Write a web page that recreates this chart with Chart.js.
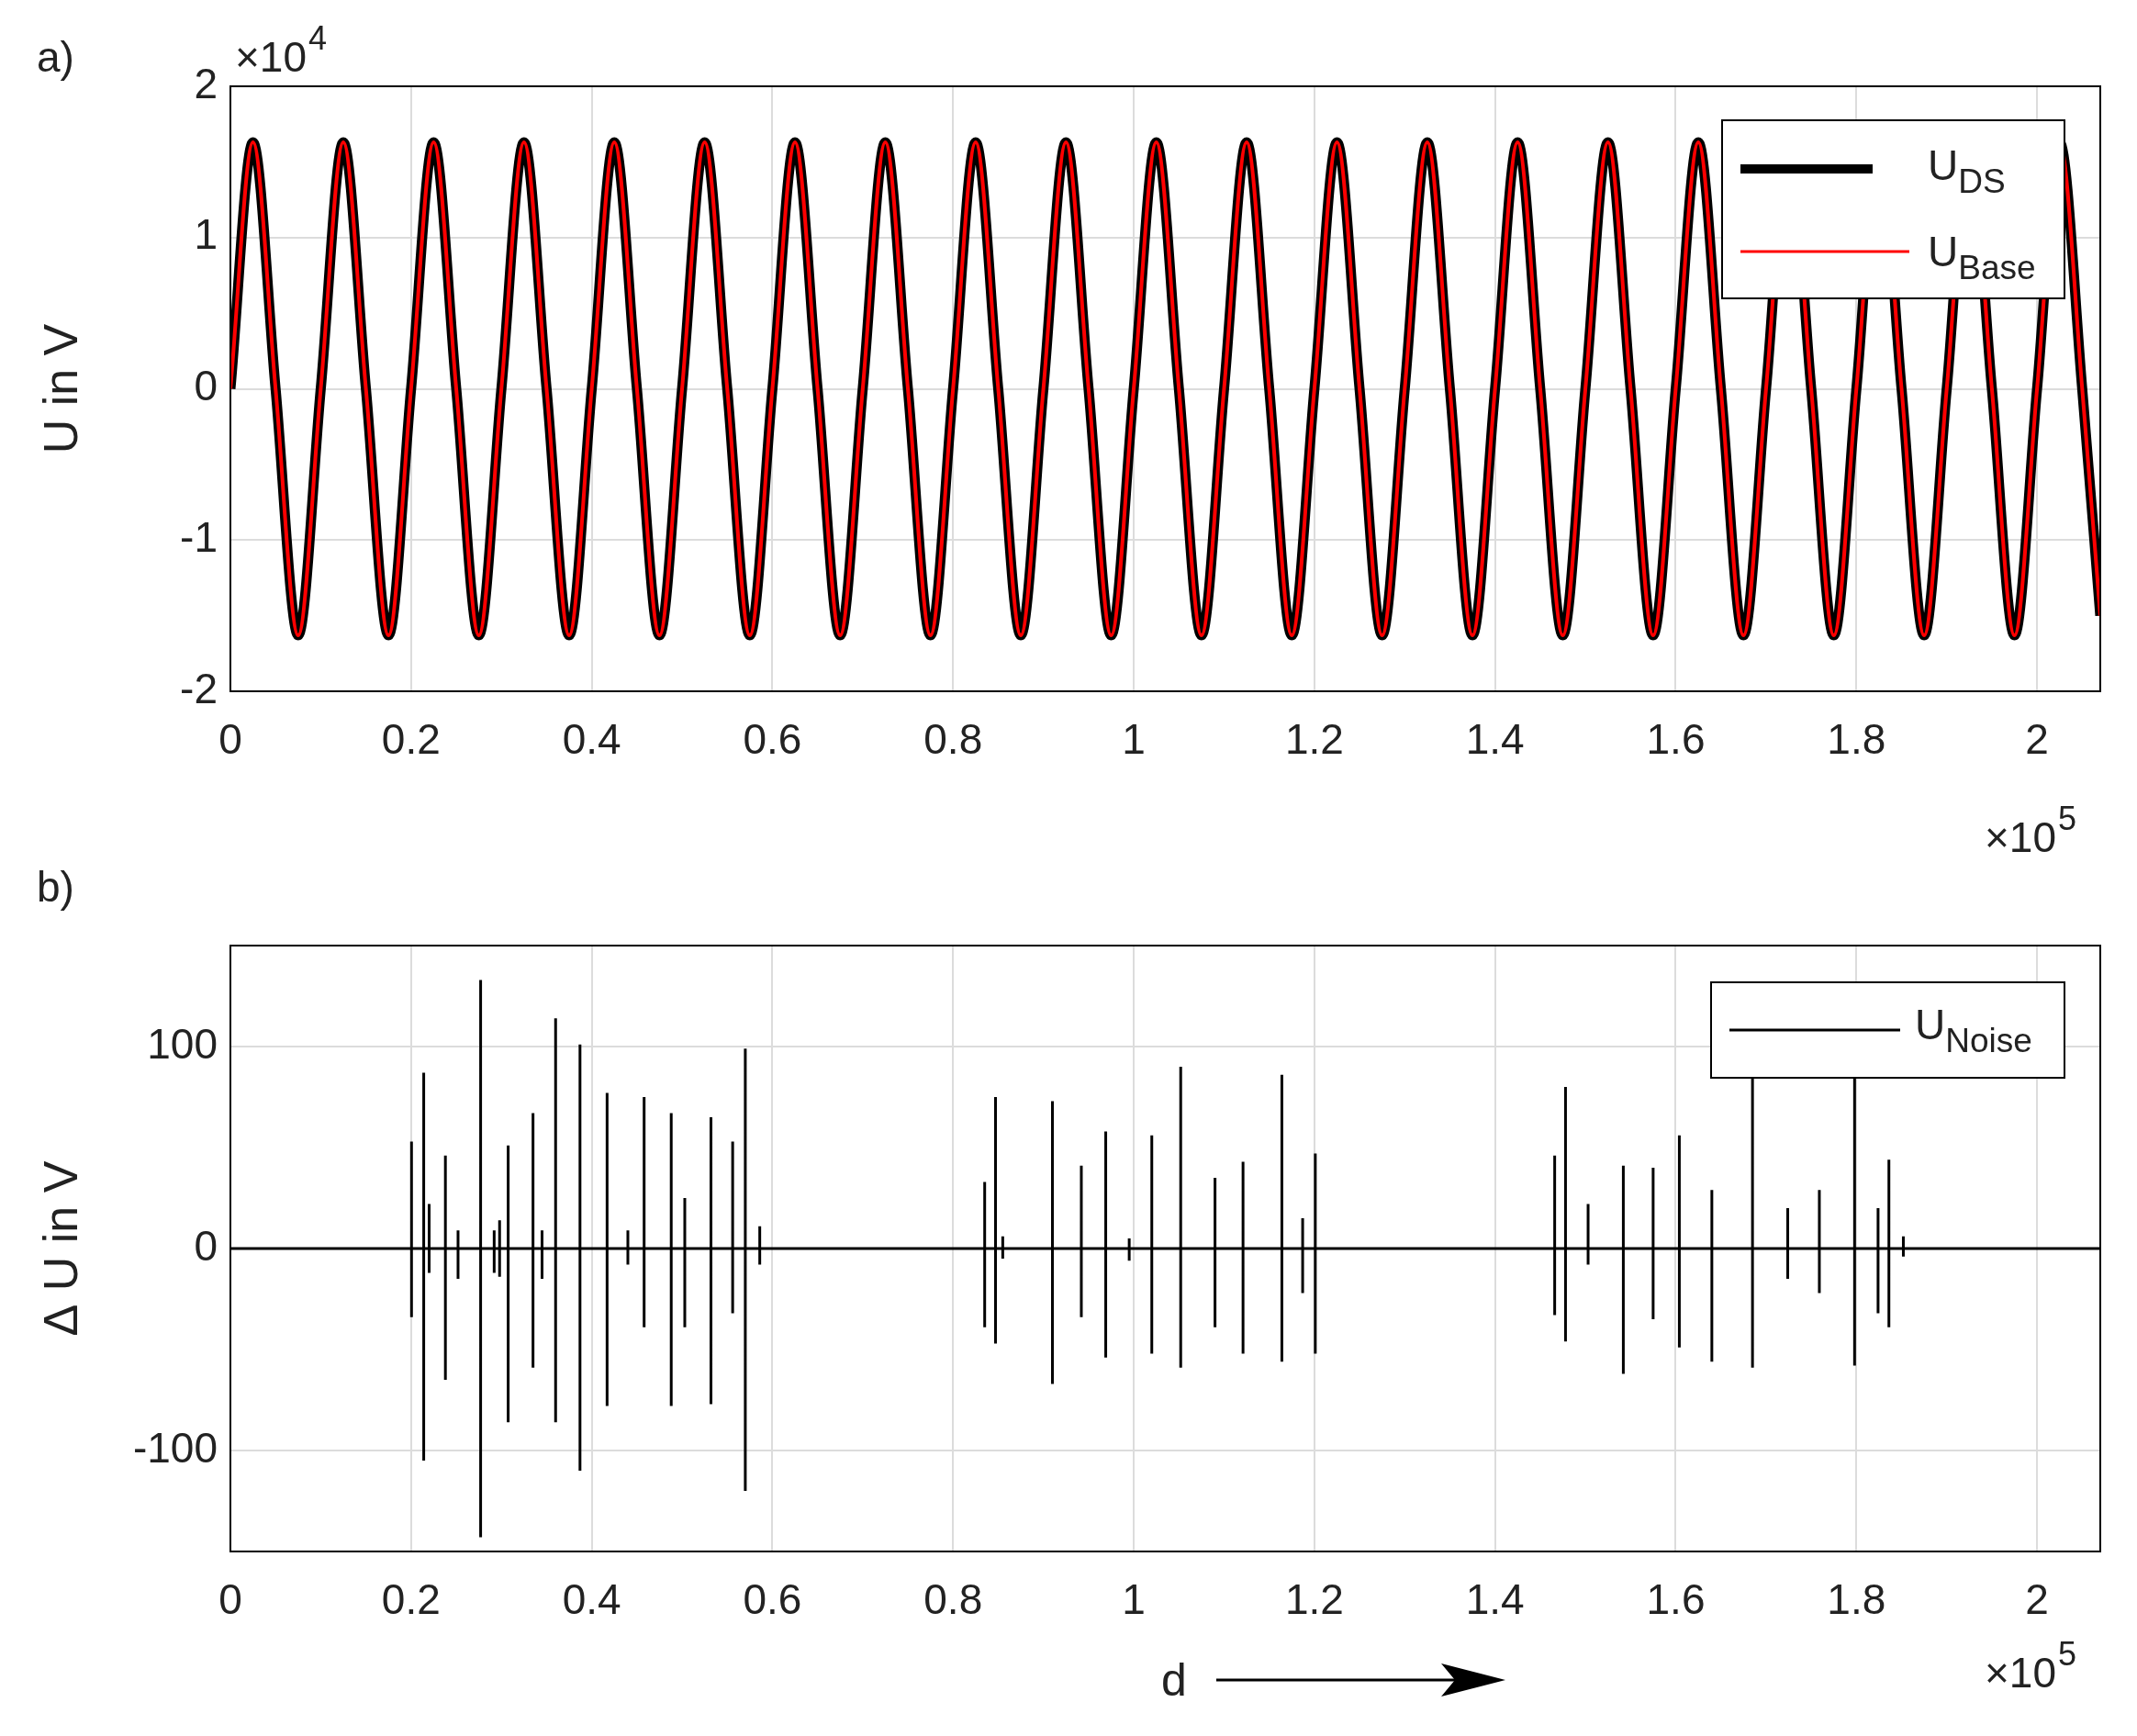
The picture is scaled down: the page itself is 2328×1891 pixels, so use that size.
<!DOCTYPE html>
<html><head><meta charset="utf-8">
<script src="https://cdn.jsdelivr.net/npm/chart.js@4.4.0/dist/chart.umd.min.js"></script>
<style>body{margin:0;background:#fff}#w1{position:absolute;left:0;top:0;width:2328px;height:930px}#w2{position:absolute;left:0;top:930px;width:2328px;height:961px}</style>
</head><body>
<div id="w1"><canvas id="c1"></canvas></div>
<div id="w2"><canvas id="c2"></canvas></div>
<script>
// Top chart: U_DS / U_Base samples (x in samples, y in V), read at quarter periods
const sineX = [];
const sineY = [];
const quarterVals = [0, 16300, 0, -16300];
for (let i = 0; i <= 82; i++) { sineX.push(i * 2500); sineY.push(quarterVals[i % 4]); }
sineX.push(207000); sineY.push(-15000);

// Bottom chart: noise spikes [x, peak, trough]
const spikeX = [20050,21400,22000,23800,25200,27700,29200,29800,30750,33500,34500,36000,38700,41700,44000,45800,48800,50300,53200,55600,57000,58600,
 83500,84700,85500,91000,94200,96900,99500,102000,105200,109000,112100,116400,118700,120100,
 146600,147800,150300,154200,157500,160400,164000,168500,172400,175900,179800,182400,183600,185200];
const spikeTop = [53,87,22,46,9,133,9,14,51,67,9,114,101,77,9,75,67,25,65,53,99,11,
 33,75,6,73,41,58,5,56,90,35,43,86,15,47,
 46,80,22,41,40,56,29,95,20,29,90,20,44,6];
const spikeBot = [-34,-105,-12,-65,-15,-143,-12,-14,-86,-59,-15,-86,-110,-78,-8,-39,-78,-39,-77,-32,-120,-8,
 -39,-47,-5,-67,-34,-54,-6,-52,-59,-39,-52,-56,-22,-52,
 -33,-46,-8,-62,-35,-49,-56,-59,-15,-22,-58,-32,-39,-4];
const xTicks = [0,20000,40000,60000,80000,100000,120000,140000,160000,180000,200000];

const FONT = "'Liberation Sans', Arial, sans-serif";
const sinePts = sineX.map((x,i)=>({x, y: sineY[i]}));
const noisePts = [{x:0,y:0}];
spikeX.forEach((x,i)=>{ noisePts.push({x,y:0},{x,y:spikeTop[i]},{x,y:spikeBot[i]},{x,y:0}); });
noisePts.push({x:207000,y:0});

function xScale(){
  return {type:'linear',min:0,max:207000,
    afterBuildTicks:s=>{s.ticks=xTicks.map(v=>({value:v}));},
    afterFit:s=>{s.height=s.chart.height - s.chart.options.plotBottom;},
    grid:{color:'#dcdcdc',lineWidth:2,tickLength:0,drawTicks:false},
    border:{color:'#000',width:2},
    ticks:{color:'#222',font:{family:FONT,size:46},padding:28,maxRotation:0,
      callback:v=>{const t=v/1e5; return t===0?'0':(t===1?'1':(t===2?'2':t.toFixed(1)));}}};
}
function frame(extra){
  return {id:'frame',afterDraw(c){
    const ctx=c.ctx,a=c.chartArea;
    ctx.save();ctx.strokeStyle='#000';ctx.lineWidth=2;ctx.strokeRect(a.left,a.top,a.right-a.left,a.bottom-a.top);
    ctx.fillStyle='#222';ctx.textBaseline='alphabetic';
    extra(ctx,a);ctx.restore();}};
}
function ytitle(ctx,a,text){
  ctx.save();ctx.translate(84,(a.top+a.bottom)/2);ctx.rotate(-Math.PI/2);
  ctx.font='52px '+FONT;ctx.textAlign='center';ctx.fillStyle='#222';ctx.fillText(text,0,0);ctx.restore();
}
function times10(ctx,x,y,exp){
  ctx.font='46px '+FONT;ctx.textAlign='left';
  ctx.fillText('\u00d710',x,y);const w=ctx.measureText('\u00d710').width;
  ctx.font='36px '+FONT;ctx.fillText(exp,x+w+2,y-24);
}
function sub(ctx,x,y,main,s){
  ctx.font='46px '+FONT;ctx.textAlign='left';ctx.fillText(main,x,y);
  const w=ctx.measureText(main).width;ctx.font='37px '+FONT;ctx.fillText(s,x+w,y+14);
}

new Chart(document.getElementById('c1'),{type:'line',
  data:{datasets:[
    {data:sinePts,borderColor:'#000',borderWidth:11,pointRadius:0,cubicInterpolationMode:'monotone',order:2},
    {data:sinePts,borderColor:'#ff0000',borderWidth:4,pointRadius:0,cubicInterpolationMode:'monotone',order:1}]},
  options:{responsive:true,maintainAspectRatio:false,animation:false,plotBottom:753,
    layout:{padding:{top:94,right:40,left:0,bottom:0}},
    plugins:{legend:{display:false},tooltip:{enabled:false}},
    scales:{x:xScale(),
      y:{min:-20000,max:20000,afterFit:s=>{s.width=251;},
        afterBuildTicks:s=>{s.ticks=[-20000,-10000,0,10000,20000].map(v=>({value:v}));},
        grid:{color:'#dcdcdc',lineWidth:2,drawTicks:false},border:{color:'#000',width:2},
        ticks:{color:'#222',font:{family:FONT,size:46},padding:14,callback:v=>String(v/1e4)}}}},
  plugins:[frame((ctx,a)=>{
    ytitle(ctx,a,'U in V');
    ctx.font='46px '+FONT;ctx.textAlign='left';ctx.fillText('a)',40,78);
    times10(ctx,256,78,'4');
    times10(ctx,2162,928,'5');
    ctx.fillStyle='#fff';ctx.fillRect(1876,131,373,194);
    ctx.strokeStyle='#000';ctx.lineWidth=2;ctx.strokeRect(1876,131,373,194);
    ctx.lineWidth=10;ctx.beginPath();ctx.moveTo(1896,184);ctx.lineTo(2040,184);ctx.stroke();
    ctx.strokeStyle='#ff0000';ctx.lineWidth=3;ctx.beginPath();ctx.moveTo(1896,274);ctx.lineTo(2080,274);ctx.stroke();
    ctx.fillStyle='#222';sub(ctx,2100,196,'U','DS');sub(ctx,2100,290,'U','Base');
  })]});

new Chart(document.getElementById('c2'),{type:'line',
  data:{datasets:[{data:noisePts,borderColor:'#000',borderWidth:3,pointRadius:0,tension:0}]},
  options:{responsive:true,maintainAspectRatio:false,animation:false,plotBottom:760,
    layout:{padding:{top:100,right:40,left:0,bottom:0}},
    plugins:{legend:{display:false},tooltip:{enabled:false}},
    scales:{x:xScale(),
      y:{min:-150,max:150,afterFit:s=>{s.width=251;},
        afterBuildTicks:s=>{s.ticks=[-100,0,100].map(v=>({value:v}));},
        grid:{color:'#dcdcdc',lineWidth:2,drawTicks:false},border:{color:'#000',width:2},
        ticks:{color:'#222',font:{family:FONT,size:46},padding:14}}}},
  plugins:[frame((ctx,a)=>{
    ytitle(ctx,a,'\u0394 U in V');
    ctx.font='46px '+FONT;ctx.textAlign='left';ctx.fillText('b)',40,52);
    times10(ctx,2162,908,'5');
    ctx.font='50px '+FONT;ctx.fillText('d',1265,917);
    ctx.strokeStyle='#000';ctx.lineWidth=3;ctx.beginPath();ctx.moveTo(1325,900);ctx.lineTo(1600,900);ctx.stroke();
    ctx.fillStyle='#000';ctx.beginPath();ctx.moveTo(1640,900);ctx.lineTo(1570,882);ctx.lineTo(1585,900);ctx.lineTo(1570,918);ctx.closePath();ctx.fill();
    ctx.fillStyle='#fff';ctx.fillRect(1864,140,385,104);
    ctx.strokeStyle='#000';ctx.lineWidth=2;ctx.strokeRect(1864,140,385,104);
    ctx.lineWidth=3;ctx.beginPath();ctx.moveTo(1884,192);ctx.lineTo(2070,192);ctx.stroke();
    ctx.fillStyle='#222';sub(ctx,2086,202,'U','Noise');
  })]});
</script>
</body></html>
